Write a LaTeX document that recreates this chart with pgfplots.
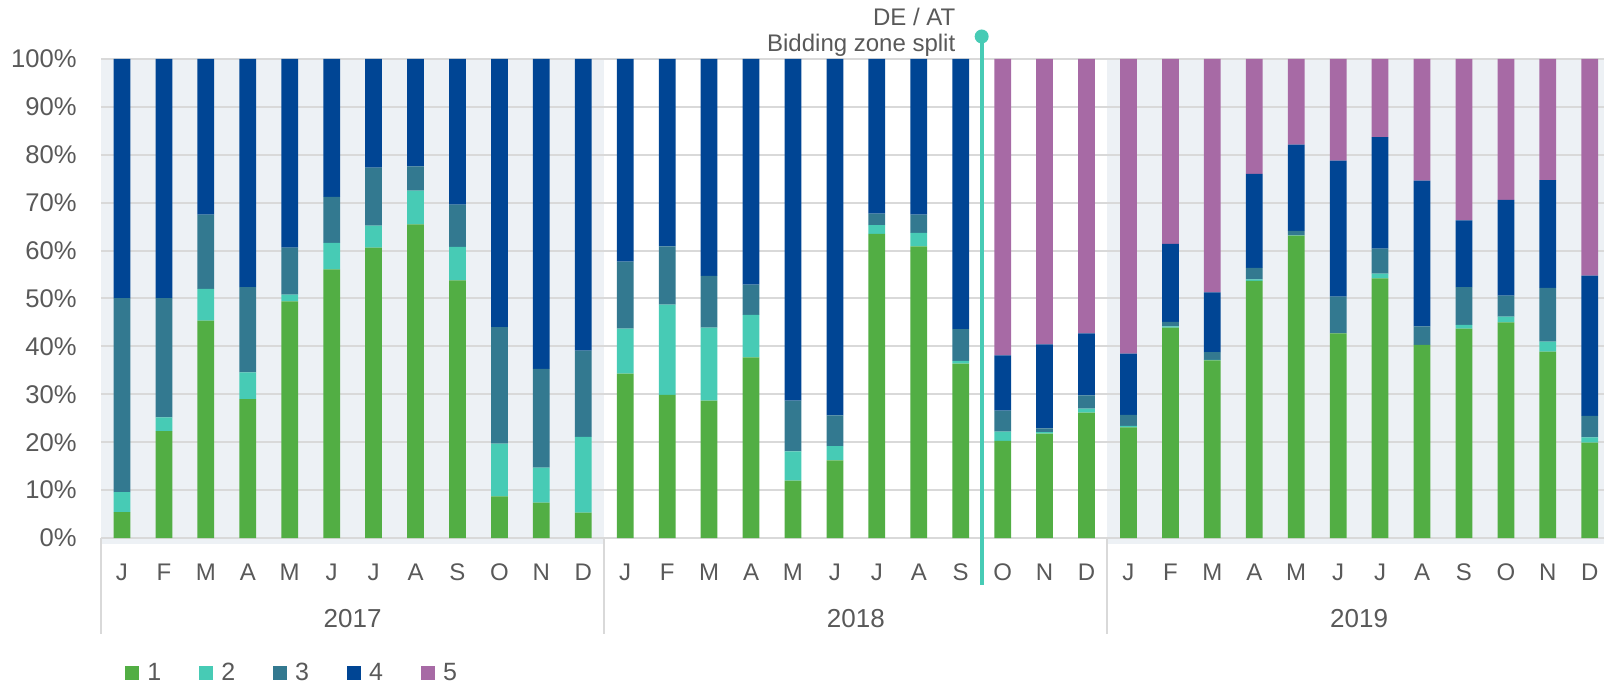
\documentclass[border=0pt]{standalone}
\usepackage{pgfplots}
\pgfplotsset{compat=1.18}
\usepackage{pgfplotstable}
\usepackage{fontspec}
\setmainfont{Liberation Sans}
\definecolor{c1}{HTML}{52AE44}
\definecolor{c2}{HTML}{47CBB5}
\definecolor{c3}{HTML}{337990}
\definecolor{c4}{HTML}{004594}
\definecolor{c5}{HTML}{A76AA5}
\definecolor{bgband}{HTML}{EDF1F5}
\definecolor{gridc}{HTML}{D9D9D9}
\definecolor{txt}{HTML}{595959}
\pgfplotsset{sqlegend/.style={legend image code/.code={\fill[##1] (0pt,-3.5pt) rectangle (7pt,3.5pt);}},
  samegeom/.style={at={(0pt,0pt)}, anchor=south west,
  scale only axis, width=751.5pt, height=239.5pt,
  xmin=-0.5, xmax=35.34, ymin=0, ymax=100, clip=false}}
\pgfplotstableread{
x s1 s2 s3 s4 s5
0 5.4 4.2 40.5 49.9 0
1 22.3 2.9 24.9 49.9 0
2 45.4 6.6 15.5 32.5 0
3 29.0 5.6 17.8 47.6 0
4 49.4 1.4 9.8 39.4 0
5 56.1 5.5 9.6 28.8 0
6 60.6 4.6 12.1 22.7 0
7 65.5 7.0 5.1 22.4 0
8 53.8 7.0 8.8 30.4 0
9 8.7 11.0 24.3 56.0 0
10 7.4 7.3 20.6 64.7 0
11 5.3 15.8 18.0 60.9 0
12 34.3 9.4 14.0 42.3 0
13 29.9 18.8 12.2 39.1 0
14 28.7 15.2 10.8 45.3 0
15 37.7 8.9 6.3 47.1 0
16 12.0 6.1 10.6 71.3 0
17 16.2 3.0 6.4 74.4 0
18 63.5 1.8 2.4 32.3 0
19 60.9 2.8 3.8 32.5 0
20 36.4 0.6 6.6 56.4 0
21 20.3 1.9 4.4 11.5 61.9
22 21.8 0.3 0.8 17.5 59.6
23 26.2 0.8 2.8 12.9 57.3
24 23.1 0.3 2.3 12.8 61.5
25 43.9 0.3 0.9 16.3 38.6
26 37.1 0.1 1.6 12.5 48.7
27 53.7 0.3 2.4 19.6 24.0
28 63.1 0.1 0.9 18.0 17.9
29 42.7 0.0 7.7 28.4 21.2
30 54.2 1.0 5.2 23.3 16.3
31 40.3 0.0 3.9 30.4 25.4
32 43.7 0.8 7.9 13.9 33.7
33 45.0 1.2 4.4 20.0 29.4
34 38.9 2.1 11.2 22.5 25.3
35 19.9 1.1 4.5 29.3 45.2
}\data
\begin{document}
\begin{tikzpicture}
\useasboundingbox (-50.5pt,-73pt) rectangle (751.5pt,269pt);
% background: bands and grid
\begin{axis}[samegeom, hide axis]
\fill[bgband] (axis cs:-0.5,-1.2) rectangle (axis cs:11.5,100);
\fill[bgband] (axis cs:23.5,-1.2) rectangle (axis cs:35.34,100);
\pgfplotsinvokeforeach{10,20,...,100}{\draw[gridc, line width=1pt] (axis cs:-0.5,#1) -- (axis cs:35.34,#1);}
\draw[gridc, line width=1.25pt] (axis cs:-0.5,0) -- (axis cs:35.34,0);
\draw[gridc, line width=1pt] (axis cs:-0.5,0) -- ++(0pt,-48pt);
\draw[gridc, line width=1pt] (axis cs:11.5,0) -- ++(0pt,-48pt);
\draw[gridc, line width=1pt] (axis cs:23.5,0) -- ++(0pt,-48pt);
\node[anchor=base, font=\fontsize{13}{15}\selectfont, text=txt, inner sep=0pt, yshift=-45pt] at (axis cs:5.5,0) {2017};
\node[anchor=base, font=\fontsize{13}{15}\selectfont, text=txt, inner sep=0pt, yshift=-45pt] at (axis cs:17.5,0) {2018};
\node[anchor=base, font=\fontsize{13}{15}\selectfont, text=txt, inner sep=0pt, yshift=-45pt] at (axis cs:29.5,0) {2019};
\end{axis}
% bars
\begin{axis}[
  samegeom,
  axis line style={draw=none},
  major tick length=0pt,
  ytick={0,10,...,100},
  yticklabels={0\%,10\%,20\%,30\%,40\%,50\%,60\%,70\%,80\%,90\%,100\%},
  yticklabel style={font=\fontsize{12.8}{14}\selectfont, text=txt, anchor=east, inner sep=0pt, xshift=-12pt},
  xtick={0,...,35},
  xticklabels={J,F,M,A,M,J,J,A,S,O,N,D,J,F,M,A,M,J,J,A,S,O,N,D,J,F,M,A,M,J,J,A,S,O,N,D},
  xticklabel style={font=\fontsize{12}{14}\selectfont, text=txt, anchor=base, inner sep=0pt, yshift=-21pt},
  ybar stacked, bar width=0.4,
  legend columns=5,
  legend style={at={(0.01597,-0.2818)}, anchor=west, draw=none, fill=none, inner sep=0pt,
    font=\fontsize{12.5}{14}\selectfont, text=txt,
    /tikz/every odd column/.append style={column sep=2pt},
    /tikz/every even column/.append style={column sep=17pt}},
]
\addplot[fill=c1, draw=none, sqlegend] table[x=x, y=s1] {\data};
\addplot[fill=c2, draw=none, sqlegend] table[x=x, y=s2] {\data};
\addplot[fill=c3, draw=none, sqlegend] table[x=x, y=s3] {\data};
\addplot[fill=c4, draw=none, sqlegend] table[x=x, y=s4] {\data};
\addplot[fill=c5, draw=none, sqlegend] table[x=x, y=s5] {\data};
\legend{1,2,3,4,5}
\draw[c2, line width=2pt] (axis cs:20.5,-9.75) -- (axis cs:20.5,104.7);
\fill[c2] (axis cs:20.5,104.7) circle (3.5pt);
\node[anchor=base east, font=\fontsize{12}{14}\selectfont, text=txt, inner sep=0pt, xshift=-13pt] at (axis cs:20.5,106.9) {DE / AT};
\node[anchor=base east, font=\fontsize{12}{14}\selectfont, text=txt, inner sep=0pt, xshift=-13pt] at (axis cs:20.5,101.5) {Bidding zone split};
\end{axis}
\end{tikzpicture}
\end{document}
